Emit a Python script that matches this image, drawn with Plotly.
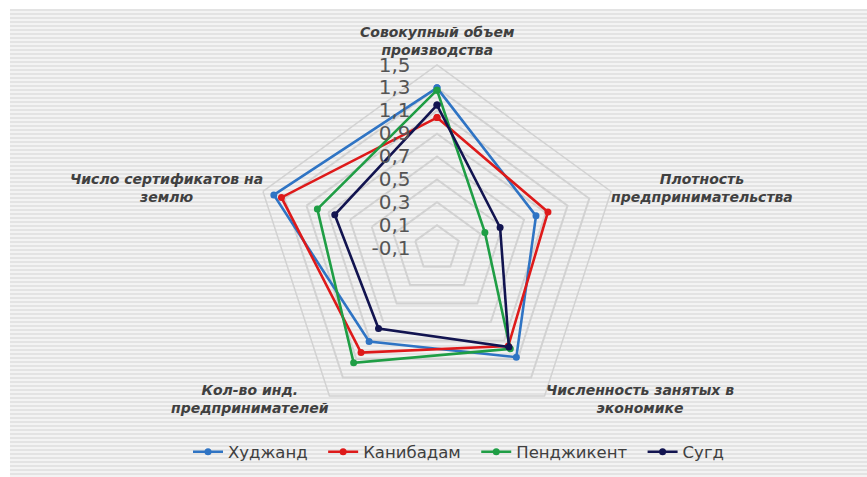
import plotly.graph_objects as go

categories = [
    "Совокупный объем производства",
    "Плотность предпринимательства",
    "Численность занятых в экономике",
    "Кол-во инд. предпринимателей",
    "Число сертификатов на землю",
]
category_labels = [
    "Совокупный объем<br>производства",
    "Плотность<br>предпринимательства",
    "Численность занятых в<br>экономике",
    "Кол-во инд.<br>предпринимателей",
    "Число сертификатов на<br>землю",
]

series_names = ["Худжанд", "Канибадам", "Пенджикент", "Сугд"]
khujand = [1.30, 0.81, 1.08, 0.91, 1.40]
kanibadam = [1.04, 0.92, 0.96, 1.03, 1.33]
penjikent = [1.28, 0.34, 0.99, 1.14, 1.00]
sugd = [1.15, 0.48, 0.97, 0.77, 0.84]
series_values = [khujand, kanibadam, penjikent, sugd]
series_colors = ["#2f74c4", "#de1a1a", "#1f9e45", "#121450"]

tick_vals = [-0.1, 0.1, 0.3, 0.5, 0.7, 0.9, 1.1, 1.3, 1.5]
tick_text = ["-0,1", "0,1", "0,3", "0,5", "0,7", "0,9", "1,1", "1,3", "1,5"]

W, H = 867, 477

fig = go.Figure()
for name, vals, col in zip(series_names, series_values, series_colors):
    fig.add_trace(go.Scatterpolar(
        r=vals + [vals[0]],
        theta=categories + [categories[0]],
        name=name + "\u00a0\u00a0",
        mode="lines+markers",
        line=dict(color=col, width=2.6),
        marker=dict(color=col, size=7, symbol="circle"),
    ))

# striped background (decorative)
shapes = [dict(type="rect", xref="paper", yref="paper",
               x0=10 / W, x1=1, y0=0, y1=1 - 9 / H,
               fillcolor="#f3f3f3", line=dict(width=0), layer="below")]
y = 10
while y < H:
    shapes.append(dict(type="line", xref="paper", yref="paper",
                       x0=10 / W, x1=1, y0=1 - y / H, y1=1 - y / H,
                       line=dict(color="#e3e3e3", width=2), layer="below"))
    y += 4

# category label placement (pixel centres)
label_pos = [(437, 41), (702, 188), (640, 399), (250, 399), (166, 188)]
annotations = []
for text, (px, py) in zip(category_labels, label_pos):
    annotations.append(dict(
        text=text, x=px / W, y=1 - py / H, xref="paper", yref="paper",
        xanchor="center", yanchor="middle", align="center", showarrow=False,
        font=dict(family="DejaVu Sans", size=14, color="#404040",
                  weight="bold", style="italic"),
    ))

cx, cy, R = 437, 248, 183
fig.update_layout(
    width=W, height=H,
    margin=dict(l=0, r=0, t=0, b=0),
    paper_bgcolor="white",
    plot_bgcolor="rgba(0,0,0,0)",
    shapes=shapes,
    annotations=annotations,
    polar=dict(
        domain=dict(x=[(cx - R) / W, (cx + R) / W], y=[1 - (cy + R) / H, 1 - (cy - R) / H]),
        bgcolor="rgba(0,0,0,0)",
        gridshape="linear",
        radialaxis=dict(
            range=[-0.1, 1.5],
            tickvals=tick_vals,
            ticktext=tick_text,
            angle=90,
            tickangle=90,
            side="counterclockwise",
            showline=False,
            ticks="outside",
            ticklen=19,
            tickcolor="rgba(0,0,0,0)",
            gridcolor="#d2d2d2",
            gridwidth=1.5,
            tickfont=dict(family="DejaVu Sans", size=20, color="#555555"),
        ),
        angularaxis=dict(
            rotation=90,
            direction="clockwise",
            showgrid=False,
            showline=True,
            showticklabels=False,
            linecolor="#d2d2d2",
            linewidth=1.5,
            ticks="",
        ),
    ),
    legend=dict(
        orientation="h",
        x=(457 + 7) / W, xanchor="center",
        y=1 - 452 / H, yanchor="middle",
        bgcolor="rgba(0,0,0,0)",
        font=dict(family="DejaVu Sans", size=16.5, color="#404040"),
    ),
    showlegend=True,
)

fig.write_html("out.html", config={"displayModeBar": False},
               post_script="document.body.style.margin='0';")
